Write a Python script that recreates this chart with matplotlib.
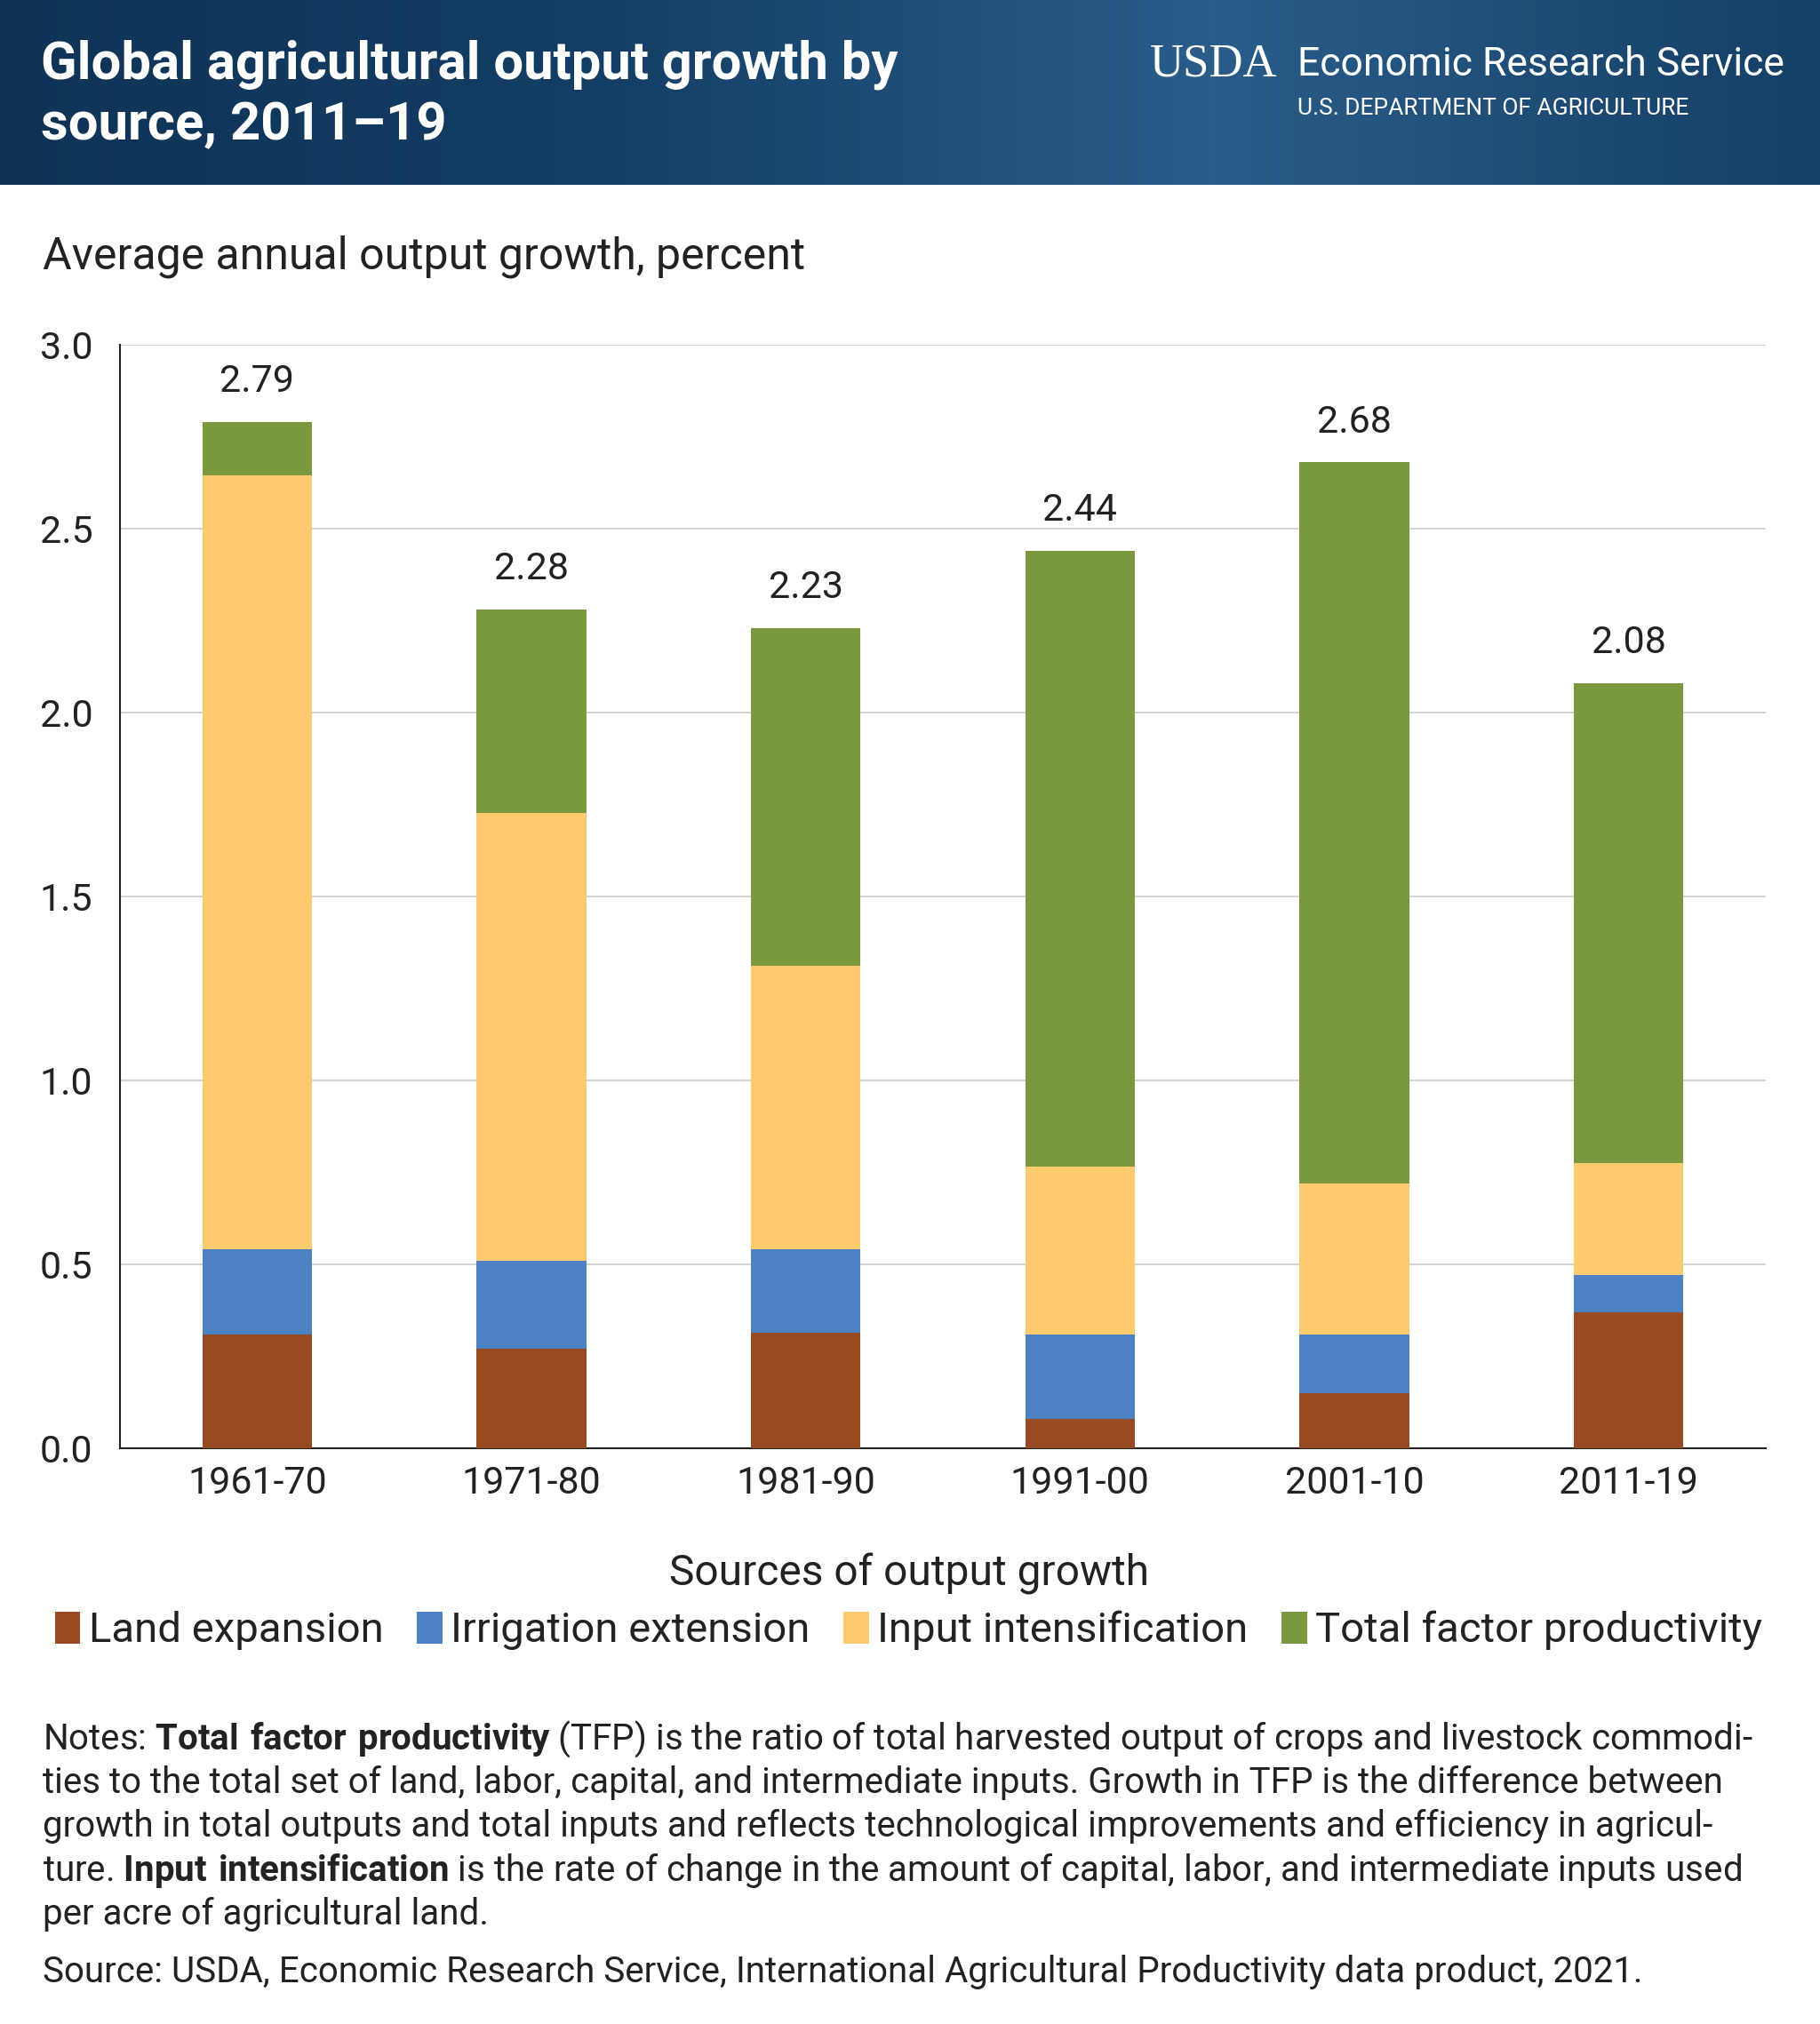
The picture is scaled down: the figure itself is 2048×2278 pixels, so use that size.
import matplotlib
matplotlib.use("Agg")
import matplotlib.pyplot as plt
import numpy as np
from matplotlib.colors import LinearSegmentedColormap

plt.rcParams['font.family'] = ['Roboto', 'DejaVu Sans']
plt.rcParams['mathtext.fontset'] = 'custom'
plt.rcParams['mathtext.bf'] = 'Roboto:bold'
plt.rcParams['mathtext.rm'] = 'Roboto'

periods = ["1961-70", "1971-80", "1981-90", "1991-00", "2001-10", "2011-19"]
land = [0.31, 0.27, 0.315, 0.08, 0.15, 0.37]
irrigation = [0.23, 0.24, 0.225, 0.23, 0.16, 0.10]
input_int = [2.105, 1.216, 0.772, 0.455, 0.41, 0.305]
tfp = [0.145, 0.554, 0.918, 1.675, 1.96, 1.305]
totals = [2.79, 2.28, 2.23, 2.44, 2.68, 2.08]
names = ["Land expansion", "Irrigation extension", "Input intensification", "Total factor productivity"]
colors = ["#9A4A22", "#4C82C3", "#FDCB6E", "#7A983D"]

W, H = 2048, 2278
fig = plt.figure(figsize=(W/100, H/100), dpi=100)

hax = fig.add_axes([0, 1-143/1568, 1, 143/1568])
g = np.vstack([np.linspace(0, 1, 512)]*2)
cmap = LinearSegmentedColormap.from_list("h", ["#0E3355", "#143E66", "#2A5D8A", "#153F66"])
hax.imshow(g, aspect='auto', cmap=cmap, extent=[0, 1, 0, 1])
hax.set_axis_off()
fig.text(32/1410, 1-50/1568, "Global agricultural output growth by", color="white",
         fontsize=43, fontweight="bold", va="center")
fig.text(32/1410, 1-97/1568, "source, 2011–19", color="white",
         fontsize=43, fontweight="bold", va="center")
fig.text(891/1410, 1-50/1568, "USDA", color="white", fontsize=38, va="center",
         family=["Liberation Serif"])
fig.text(1005/1410, 1-50/1568, "Economic Research Service", color="white", fontsize=32, va="center")
fig.text(1005/1410, 1-84/1568, "U.S. DEPARTMENT OF AGRICULTURE", color="white", fontsize=19, va="center")

fig.text(33/1410, 1-199/1568, "Average annual output growth, percent", fontsize=36, va="center", color="#222222")

ax = fig.add_axes([93/1410, 1-1122/1568, (1368-93)/1410, (1122-267)/1568])
x = np.arange(len(periods))
bottom = np.zeros(len(periods))
for vals, c, n in zip([land, irrigation, input_int, tfp], colors, names):
    ax.bar(x, vals, 0.4, bottom=bottom, color=c, label=n, zorder=3)
    bottom += np.array(vals)
for xi, t in zip(x, totals):
    ax.text(xi, t + 0.06, f"{t:.2f}", ha="center", va="bottom", fontsize=31, color="#222222")
ax.set_ylim(0, 3.0)
ax.set_xlim(-0.5, 5.5)
ax.set_yticks(np.arange(0, 3.01, 0.5))
ax.set_yticklabels([f"{v:.1f}" for v in np.arange(0, 3.01, 0.5)])
ax.set_xticks(x)
ax.set_xticklabels(periods)
ax.tick_params(axis='both', labelsize=31, length=0, pad=14, colors="#222222")
ax.tick_params(axis='y', pad=22)
ax.grid(axis='y', color="#CCCCCC", lw=1.2, zorder=0)
for s in ["top", "right"]:
    ax.spines[s].set_visible(False)
for s in ["left", "bottom"]:
    ax.spines[s].set_color("#222222")
    ax.spines[s].set_linewidth(1.5)

fig.text(704/1410, 1-1219/1568, "Sources of output growth", fontsize=34.5, ha="center", va="center", color="#222222")
fig.legend(loc="center", bbox_to_anchor=(704/1410, 1-1263/1568), ncol=4, frameon=False,
           fontsize=34, handlelength=0.6, handleheight=0.8, handletextpad=0.2, columnspacing=0.8,
           labelcolor="#222222")

notes = [
    r"Notes: $\bf{Total\ factor\ productivity}$ (TFP) is the ratio of total harvested output of crops and livestock commodi-",
    "ties to the total set of land, labor, capital, and intermediate inputs. Growth in TFP is the difference between",
    "growth in total outputs and total inputs and reflects technological improvements and efficiency in agricul-",
    r"ture. $\bf{Input\ intensification}$ is the rate of change in the amount of capital, labor, and intermediate inputs used",
    "per acre of agricultural land.",
]
for i, line in enumerate(notes):
    fig.text(33/1410, 1-(1347+34*i)/1568, line, fontsize=29, va="center", color="#222222")
fig.text(33/1410, 1-1528/1568, "Source: USDA, Economic Research Service, International Agricultural Productivity data product, 2021.",
         fontsize=29, va="center", color="#222222")

fig.savefig("out.png", dpi=100, facecolor="white")
